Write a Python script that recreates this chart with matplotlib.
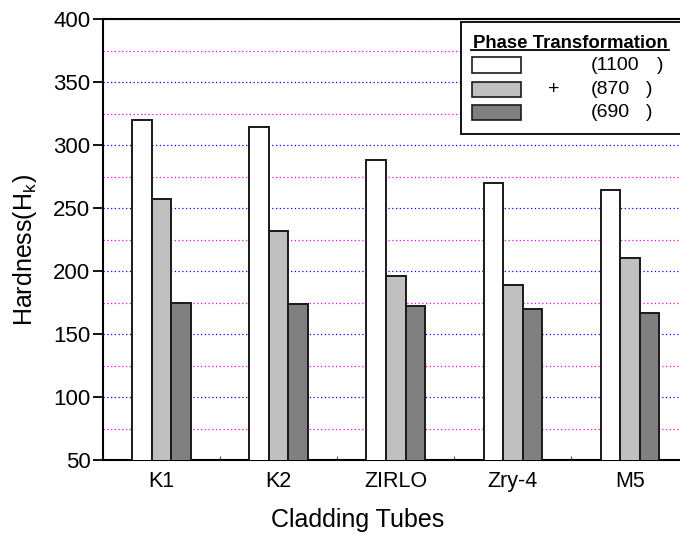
import numpy as np
import matplotlib.pyplot as plt
from matplotlib.patches import Rectangle
from matplotlib.lines import Line2D
from matplotlib.ticker import MultipleLocator

plt.rcParams['font.family'] = ['Liberation Sans', 'DejaVu Sans']
plt.rcParams['mathtext.fontset'] = 'custom'
plt.rcParams['mathtext.rm'] = 'Liberation Sans'
plt.rcParams['mathtext.it'] = 'Liberation Sans'

# data
tubes = ['K1', 'K2', 'ZIRLO', 'Zry-4', 'M5']
beta_1100 = [320, 314, 288, 270, 264]
ab_870 = [257, 232, 196, 189, 210]
alpha_690 = [175, 174, 172, 170, 167]

W, H = 680, 539
fig = plt.figure(figsize=(W / 100, H / 100), dpi=100)

def px(x, y):
    return x / W, 1 - y / H

# axes extends a little past the right edge, as in the reference
ax = fig.add_axes([103 / W, (H - 460) / H, 585.5 / W, 441 / H])

x = np.arange(len(tubes))
bw = 1 / 6
edge = '#1a1a1a'
ax.bar(x - bw, beta_1100, bw, color='white', edgecolor=edge, linewidth=1.4, zorder=3)
ax.bar(x, ab_870, bw, color='#c0c0c0', edgecolor=edge, linewidth=1.4, zorder=3)
ax.bar(x + bw, alpha_690, bw, color='#808080', edgecolor=edge, linewidth=1.4, zorder=3)

ax.set_xlim(-0.5, 4.5)
ax.set_ylim(50, 400)
ax.set_xticks(x)
ax.set_xticklabels(tubes, fontsize=15.5)
ax.xaxis.set_minor_locator(MultipleLocator(0.5))
ax.yaxis.set_major_locator(MultipleLocator(50))
ax.yaxis.set_minor_locator(MultipleLocator(25))
ax.tick_params(axis='y', which='major', direction='out', length=7, width=1.3, labelsize=16, pad=2)
ax.tick_params(axis='y', which='minor', length=0)
ax.tick_params(axis='x', which='both', direction='in', length=3, width=0.8, color='#555555', pad=8)

ax.grid(axis='y', which='major', color='blue', linestyle=(0, (1, 2)), linewidth=0.9, zorder=0)
ax.grid(axis='y', which='minor', color='magenta', linestyle=(0, (1, 2)), linewidth=0.9, zorder=0)
for s in ax.spines.values():
    s.set_linewidth(1.5)
ax.spines['right'].set_visible(False)

ax.set_xlabel('Cladding Tubes', fontsize=18)
ax.xaxis.set_label_coords((358 - 103) / 585.5, -0.108)
ax.set_ylabel('Hardness(H$_\\mathregular{k}$)', fontsize=18)
ax.yaxis.set_label_coords(-0.110, (460 - 250) / 441)

# legend drawn by hand
fig.patches.append(Rectangle(px(461, 134), 240 / W, 112 / H, transform=fig.transFigure,
                             facecolor='white', edgecolor='black', linewidth=1.3, zorder=5))
fig.text(*px(473, 48), 'Phase Transformation', fontsize=13.4, fontweight='bold',
         ha='left', va='baseline', zorder=6)
fig.lines.append(Line2D([471 / W, 669 / W], [1 - 50 / H, 1 - 50 / H], transform=fig.transFigure,
                        color='black', linewidth=1.3, zorder=6))
rows = [65, 89, 112.5]
fills = ['white', '#c0c0c0', '#808080']
labels = ['(1100', '(870', '(690']
closes = [657, 646, 646]
for yc, fc, lab, xc in zip(rows, fills, labels, closes):
    fig.patches.append(Rectangle(px(472, yc + 7.5), 49 / W, 15 / H, transform=fig.transFigure,
                                 facecolor=fc, edgecolor=edge, linewidth=1.2, zorder=6))
    fig.text(*px(591, yc), lab, fontsize=14, ha='left', va='center', zorder=7)
    fig.text(*px(xc, yc), ')', fontsize=14, ha='left', va='center', zorder=7)
fig.text(*px(554, rows[1]), '+', fontsize=14, ha='center', va='center', zorder=7)

fig.savefig('out.png', dpi=100)
